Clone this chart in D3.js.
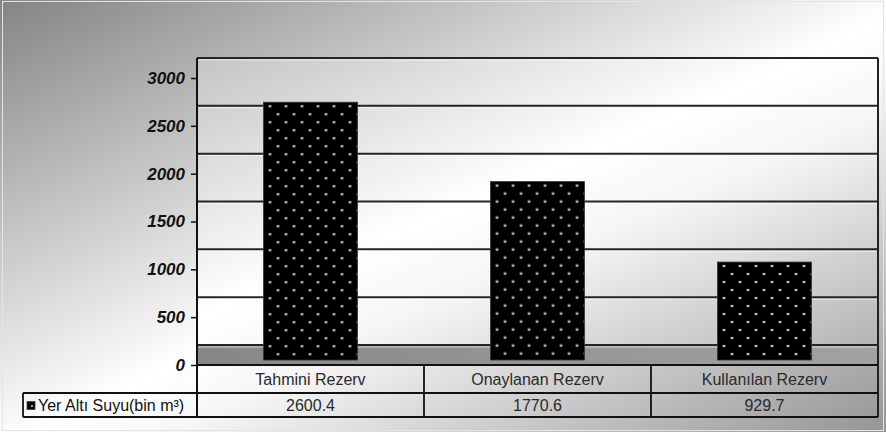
<!DOCTYPE html>
<html>
<head>
<meta charset="utf-8">
<script src="https://cdn.jsdelivr.net/npm/d3@7"></script>
<style>
  html, body { margin: 0; padding: 0; background: #fff; }
  svg { display: block; font-family: "Liberation Sans", Arial, sans-serif; }
</style>
</head>
<body>
<svg id="chart" width="886" height="432"></svg>
<script>
// ---- data ----
const categories = ["Tahmini Rezerv", "Onaylanan Rezerv", "Kullanılan Rezerv"];
const values = [2600.4, 1770.6, 929.7];
const yTicks = [0, 500, 1000, 1500, 2000, 2500, 3000];
const seriesName = "Yer Altı Suyu(bin m³)";

// ---- layout ----
const W = 886, H = 432;
const plotLeft = 197, plotRight = 878;
const depth = 20;          // back-wall offset (3D)
const barTopShift = 14;    // bar front top offset
const barBottomShift = 5;  // bar front bottom offset
const row1Bottom = 393, row2Bottom = 417, legendLeft = 23;
const FONT = "Liberation Sans, Arial, sans-serif";

const svg = d3.select("#chart");
const defs = svg.append("defs");

const y = d3.scaleLinear().domain([0, 3000]).range([365, 78]);
const x = d3.scaleBand().domain(categories).range([plotLeft, plotRight]);
const barW = x.bandwidth() * 0.414;

// gradients
function diagGrad(id, stops) {
  const g = defs.append("linearGradient").attr("id", id)
    .attr("x1", 0).attr("y1", 0).attr("x2", 1).attr("y2", 1);
  stops.forEach(s => g.append("stop").attr("offset", s[0]).attr("stop-color", s[1]));
}
diagGrad("bg", [[0, "#848484"], [0.52, "#ffffff"], [0.6, "#f6f6f6"], [1, "#959595"]]);
diagGrad("plotbg", [[0, "#c4c4c4"], [0.45, "#ffffff"], [0.6, "#f6f6f6"], [1, "#b4b4b4"]]);
const fg = defs.append("linearGradient").attr("id", "floor")
  .attr("x1", 0).attr("y1", 0).attr("x2", 1).attr("y2", 0);
fg.append("stop").attr("offset", 0).attr("stop-color", "#878787");
fg.append("stop").attr("offset", 1).attr("stop-color", "#a2a2a2");

// background
svg.append("rect").attr("x", 0).attr("y", 0).attr("width", W).attr("height", H).attr("fill", "url(#bg)");
svg.append("rect").attr("x", 2.5).attr("y", 1.5).attr("width", W - 5).attr("height", H - 3)
  .attr("fill", "none").attr("stroke", "#e4e4e4").attr("stroke-width", 1);

// plot area (back wall)
svg.append("rect")
  .attr("x", plotLeft).attr("y", y(3000) - depth)
  .attr("width", plotRight - plotLeft).attr("height", y(0) - y(3000))
  .attr("fill", "url(#plotbg)");

// floor
svg.append("rect")
  .attr("x", plotLeft).attr("y", y(0) - depth)
  .attr("width", plotRight - plotLeft).attr("height", depth)
  .attr("fill", "url(#floor)");

// gridlines on back wall
svg.append("g").selectAll("line")
  .data(yTicks)
  .join("line")
  .attr("x1", plotLeft).attr("x2", plotRight)
  .attr("y1", d => y(d) - depth).attr("y2", d => y(d) - depth)
  .attr("stroke", "#252525").attr("stroke-width", 2);
svg.append("g").selectAll("line")
  .data(yTicks)
  .join("line")
  .attr("x1", plotLeft).attr("x2", plotRight)
  .attr("y1", d => y(d) - depth + 2).attr("y2", d => y(d) - depth + 2)
  .attr("stroke", "#ffffff").attr("stroke-opacity", 0.6).attr("stroke-width", 1);

// bar patterns + bars
values.forEach((v, i) => {
  const bx = x(categories[i]) + (x.bandwidth() - barW) / 2;
  const by = y(v) - barTopShift;
  const p = defs.append("pattern").attr("id", "dots" + i)
    .attr("patternUnits", "userSpaceOnUse")
    .attr("x", bx).attr("y", by).attr("width", 16).attr("height", 16);
  p.append("rect").attr("width", 16).attr("height", 16).attr("fill", "#000");
  p.append("circle").attr("cx", 6.5).attr("cy", 4).attr("r", 1.3).attr("fill", "#e6e6e6");
  p.append("circle").attr("cx", 14.5).attr("cy", 12).attr("r", 1.3).attr("fill", "#e6e6e6");
});

svg.append("g").selectAll("rect")
  .data(values)
  .join("rect")
  .attr("x", (d, i) => x(categories[i]) + (x.bandwidth() - barW) / 2)
  .attr("y", d => y(d) - barTopShift)
  .attr("width", barW)
  .attr("height", d => (y(0) - barBottomShift) - (y(d) - barTopShift))
  .attr("fill", (d, i) => `url(#dots${i})`)
  .attr("stroke", "#333").attr("stroke-width", 0.8);

// right border of wall + floor
svg.append("line")
  .attr("x1", plotRight).attr("x2", plotRight)
  .attr("y1", y(3000) - depth).attr("y2", row2Bottom)
  .attr("stroke", "#222").attr("stroke-width", 2);

// y axis
const yAxis = d3.axisLeft(y).tickValues(yTicks).tickFormat(d3.format("d")).tickSize(6).tickPadding(6);
const ga = svg.append("g").attr("transform", `translate(${plotLeft},0)`).call(yAxis);
ga.attr("font-family", FONT).attr("font-size", 17);
ga.select(".domain").remove();
ga.selectAll(".tick line").attr("stroke", "#111").attr("stroke-width", 1.5);
ga.selectAll(".tick text")
  .attr("font-weight", "bold").attr("font-style", "italic")
  .attr("fill", "#111");
svg.append("line")
  .attr("x1", plotLeft).attr("x2", plotLeft)
  .attr("y1", y(3000) - depth).attr("y2", row2Bottom)
  .attr("stroke", "#111").attr("stroke-width", 2);

// data table
const tbl = svg.append("g").attr("font-family", FONT).attr("font-size", 16);
tbl.append("line").attr("x1", plotLeft).attr("x2", plotRight)
  .attr("y1", y(0)).attr("y2", y(0)).attr("stroke", "#111").attr("stroke-width", 1.8);
tbl.append("line").attr("x1", legendLeft).attr("x2", plotRight)
  .attr("y1", row1Bottom).attr("y2", row1Bottom).attr("stroke", "#111").attr("stroke-width", 1.8);
tbl.append("line").attr("x1", legendLeft).attr("x2", plotRight)
  .attr("y1", row2Bottom).attr("y2", row2Bottom).attr("stroke", "#111").attr("stroke-width", 1.8);
tbl.append("line").attr("x1", legendLeft).attr("x2", legendLeft)
  .attr("y1", row1Bottom).attr("y2", row2Bottom).attr("stroke", "#111").attr("stroke-width", 1.8);
tbl.selectAll(".sep")
  .data(categories.slice(1))
  .join("line").attr("class", "sep")
  .attr("x1", d => x(d)).attr("x2", d => x(d))
  .attr("y1", y(0)).attr("y2", row2Bottom)
  .attr("stroke", "#111").attr("stroke-width", 1.8);

tbl.selectAll(".cat")
  .data(categories)
  .join("text").attr("class", "cat")
  .attr("x", d => x(d) + x.bandwidth() / 2)
  .attr("y", (y(0) + row1Bottom) / 2 + 6)
  .attr("text-anchor", "middle")
  .attr("fill", "#2a2a2a")
  .text(d => d);

tbl.selectAll(".val")
  .data(values)
  .join("text").attr("class", "val")
  .attr("x", (d, i) => x(categories[i]) + x.bandwidth() / 2)
  .attr("y", (row1Bottom + row2Bottom) / 2 + 6)
  .attr("text-anchor", "middle")
  .attr("fill", "#2a2a2a")
  .text(d => String(d));

// legend key
tbl.append("rect").attr("x", 27).attr("y", 401.5).attr("width", 8).attr("height", 8)
  .attr("fill", "#000").attr("stroke", "#444").attr("stroke-width", 0.8);
tbl.append("circle").attr("cx", 32).attr("cy", 406).attr("r", 1).attr("fill", "#ddd");
tbl.append("text").attr("x", 38).attr("y", (row1Bottom + row2Bottom) / 2 + 6)
  .attr("fill", "#111")
  .text(seriesName);
</script>
</body>
</html>
